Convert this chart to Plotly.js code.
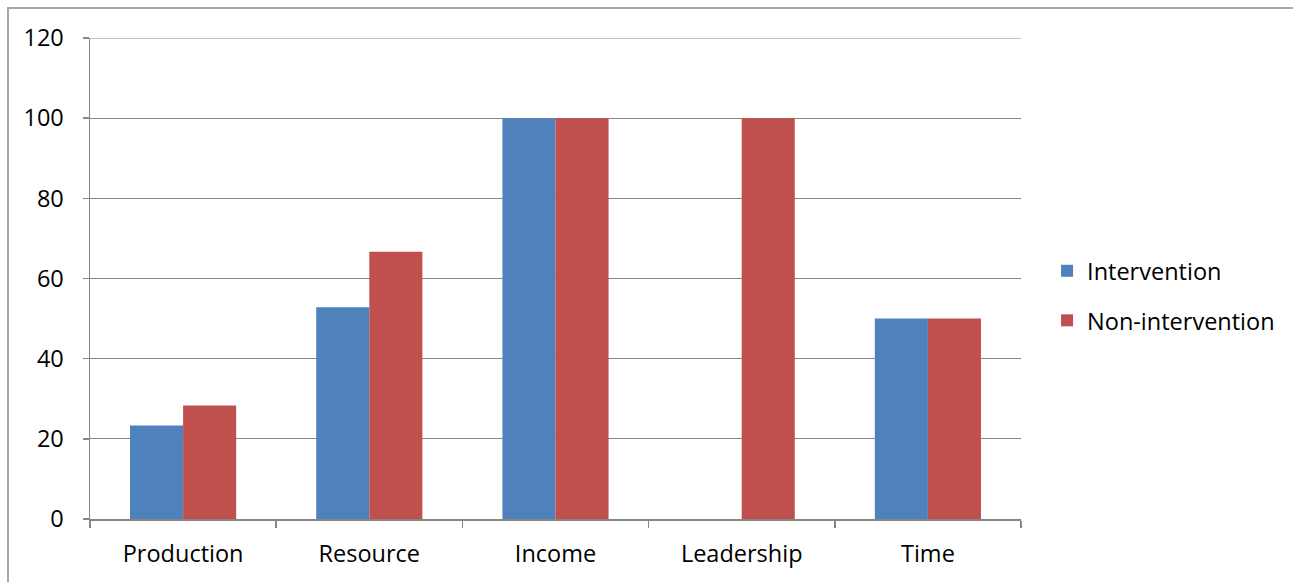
<!DOCTYPE html>
<html>
<head>
<meta charset="utf-8">
<script src="https://cdn.plot.ly/plotly-3.0.1.min.js"></script>
<style>
  html, body { margin: 0; padding: 0; background: #fff; overflow: hidden; }
  #frame { position: absolute; left: 7px; top: 7px; width: 1400px; height: 700px;
           border-left: 2px solid #a6a6a6; border-top: 2px solid #a6a6a6; pointer-events: none; }
  #chart { position: absolute; left: 0; top: 0; width: 1293px; height: 582px; }
</style>
</head>
<body>
<div id="chart"></div>
<div id="frame"></div>
<script>
// Share of respondents per indicator, by group
const categories = ["Production", "Resource", "Income", "Leadership", "Time"];
const intervention = [23.3, 52.8, 100, 0, 50];
const nonIntervention = [28.3, 66.7, 100, 100, 50];
const yTicks = [0, 20, 40, 60, 80, 100, 120];
const yMax = yTicks[yTicks.length - 1];

const font = { family: "Open Sans, Liberation Sans, sans-serif", size: 23.5, color: "#000" };
const gridColor = "#868686";

const traces = [
  { type: "bar", name: "Intervention", legendgroup: "a", x: categories, y: intervention,
    marker: { color: "#4f81bd", line: { width: 0 } } },
  { type: "bar", name: "Non-intervention", legendgroup: "b", x: categories, y: nonIntervention,
    marker: { color: "#c0504d", line: { width: 0 } } }
];

const layout = {
  width: 1293, height: 582,
  margin: { l: 90, r: 272, t: 38, b: 63, pad: 0, autoexpand: false },
  paper_bgcolor: "rgba(0,0,0,0)", plot_bgcolor: "#fff",
  font: font,
  barmode: "group", bargap: 0.43, bargroupgap: 0,
  showlegend: true,
  legend: { x: 1.028, y: 0.4636, xanchor: "left", yanchor: "middle",
            font: font, itemwidth: 30, tracegroupgap: 16 },
  xaxis: {
    type: "category", tickson: "boundaries", ticks: "outside", ticklen: 7,
    tickcolor: gridColor, tickwidth: 1.5, ticklabelstandoff: 13,
    showline: true, linecolor: gridColor, linewidth: 1.5,
    showgrid: false, tickfont: font, automargin: false
  },
  yaxis: {
    range: [0, yMax], tickvals: yTicks, ticktext: yTicks.map(String),
    ticks: "outside", ticklen: 6, tickcolor: gridColor, tickwidth: 1.5, ticklabelstandoff: 14,
    showline: true, linecolor: gridColor, linewidth: 1.5,
    showgrid: true, gridcolor: gridColor, gridwidth: 1.2,
    zeroline: false, tickfont: font, automargin: false
  },
  // gridline on the top tick, which sits on the plot edge
  shapes: [{ type: "line", xref: "paper", yref: "y", x0: 0, x1: 1, y0: yMax, y1: yMax,
             line: { color: gridColor, width: 1.2 } }]
};

Plotly.newPlot("chart", traces, layout, { staticPlot: true, displayModeBar: false });
</script>
</body>
</html>
